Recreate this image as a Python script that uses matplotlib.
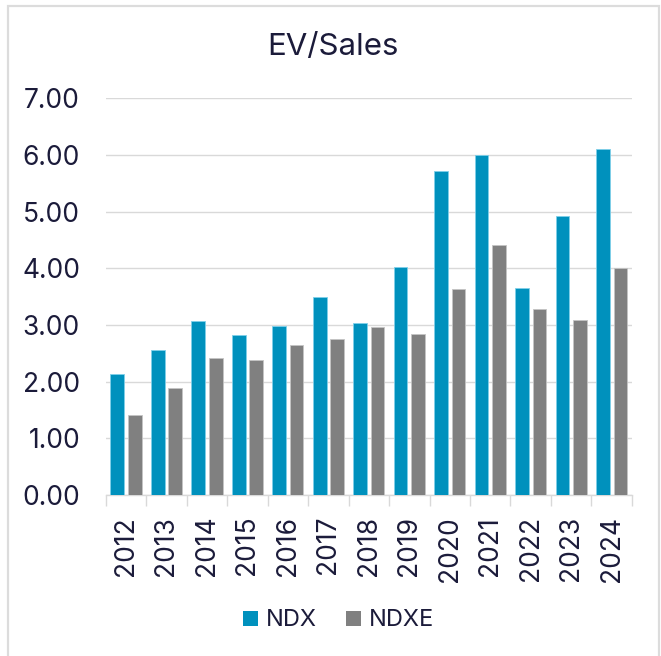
import numpy as np
import matplotlib.pyplot as plt
from matplotlib.lines import Line2D
from matplotlib.patches import Rectangle

plt.switch_backend('Agg')

years = ['2012', '2013', '2014', '2015', '2016', '2017', '2018',
         '2019', '2020', '2021', '2022', '2023', '2024']
ndx = [2.14, 2.56, 3.08, 2.83, 2.98, 3.50, 3.04, 4.02, 5.72, 6.00, 3.65, 4.93, 6.11]
ndxe = [1.42, 1.89, 2.42, 2.38, 2.65, 2.75, 2.96, 2.84, 3.63, 4.42, 3.29, 3.09, 4.01]
y_ticks = [0, 1, 2, 3, 4, 5, 6, 7]

TEXT = '#1b1b3a'
GRID = '#d9d9d9'
BLUE = '#0091bd'
GREY = '#808080'
plt.rcParams['font.family'] = ['Inter', 'DejaVu Sans']

fig = plt.figure(figsize=(6.61, 6.56), dpi=100)
fig.patch.set_facecolor('white')
ax = fig.add_axes([0.160, 0.2454, 0.796, 0.6046])

x = np.arange(len(years))
w = 0.34
off = 0.215
ax.bar(x - off, ndx, w, color=BLUE, edgecolor='#7fd0ea', linewidth=0.6, zorder=3)
ax.bar(x + off, ndxe, w, color=GREY, edgecolor='#c4c4c4', linewidth=0.6, zorder=3)

ax.set_xlim(-0.5, len(years) - 0.5)
ax.set_ylim(0, 7)
ax.set_yticks(y_ticks)
ax.set_yticklabels([f'{v:.2f}' for v in y_ticks])
ax.yaxis.grid(True, color=GRID, linewidth=1.0, zorder=0)
ax.tick_params(axis='y', length=0, pad=18.5, labelsize=19, labelcolor=TEXT)

ax.set_xticks(x)
ax.set_xticklabels(years, rotation=90)
ax.set_xticks(np.arange(len(years) + 1) - 0.5, minor=True)
ax.tick_params(axis='x', which='major', length=0, pad=15, labelsize=19, labelcolor=TEXT)
ax.tick_params(axis='x', which='minor', length=8, width=1.0, color=GRID)

for s in ['top', 'right', 'left']:
    ax.spines[s].set_visible(False)
ax.spines['bottom'].set_color(GRID)
ax.spines['bottom'].set_linewidth(1.0)

fig.text(0.503, 0.929, 'EV/Sales', ha='center', va='center', fontsize=22.5, color=TEXT)

handles = [Line2D([], [], linestyle='none', marker='s', markersize=10.8,
                  markerfacecolor=c, markeredgewidth=0) for c in (BLUE, GREY)]
fig.legend(handles, ['NDX', 'NDXE'], loc='center', bbox_to_anchor=(0.511, 0.055),
           ncol=2, frameon=False, fontsize=17, handlelength=0.7, handletextpad=0.3,
           columnspacing=1.2, labelcolor=TEXT)

# light frame around the card
fig.add_artist(Rectangle((7.5 / 661, -0.01), 651.5 / 661, 1 - 6 / 656 + 0.01,
                         transform=fig.transFigure, fill=False,
                         edgecolor='#dcdcdc', linewidth=1.6))

fig.savefig('out.png', dpi=100, facecolor='white')
